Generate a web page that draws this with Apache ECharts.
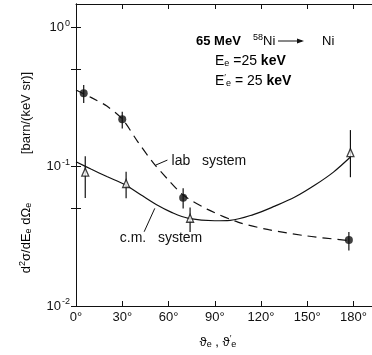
<!DOCTYPE html>
<html>
<head>
<meta charset="utf-8">
<script src="https://cdn.jsdelivr.net/npm/echarts@6/dist/echarts.min.js"></script>
<style>
  html, body { margin: 0; padding: 0; background: #fff; }
  #chart { width: 372px; height: 355px; }
</style>
</head>
<body>
<div id="chart"></div>
<script>
// angles in degrees, cross sections in barn/(keV sr)
var labAngle = [5, 30, 69.5, 177];
var labValue = [0.336, 0.219, 0.0598, 0.0297];
var labLow   = [0.286, 0.188, 0.050, 0.025];
var labHigh  = [0.385, 0.248, 0.070, 0.034];

var cmAngle = [6, 32.5, 74, 178];
var cmValue = [0.0914, 0.0757, 0.0426, 0.126];
var cmLow   = [0.0595, 0.0594, 0.0339, 0.084];
var cmHigh  = [0.119, 0.092, 0.051, 0.183];

// curves drawn through the points (dashed = lab, solid = c.m.)
var labCurveX = [0, 10, 20, 30, 40, 50, 60, 70, 85, 105, 125, 150, 177];
var labCurveY = [0.355, 0.313, 0.272, 0.2197, 0.1514, 0.107, 0.0801, 0.062, 0.0496, 0.040, 0.0353, 0.0318, 0.0295];
var cmCurveX = [0, 10, 20, 32, 42, 52, 62, 73, 90, 100, 115, 129, 142, 155, 167, 178];
var cmCurveY = [0.1084, 0.0957, 0.0849, 0.0738, 0.0628, 0.0535, 0.0470, 0.0426, 0.0409, 0.0412, 0.0453, 0.0521, 0.0605, 0.0738, 0.0914, 0.1172];

var xTicks = [0, 30, 60, 90, 120, 150, 180];
var yTicks = [0.01, 0.05, 0.1, 0.5, 1];
var yLabelVals = [0.01, 0.1, 1];

var ink = '#111';
var font = 'Liberation Sans';

function zip(xs, ys) {
  return xs.map(function (x, i) { return [x, ys[i]]; });
}

function errorBar(params, api) {
  var x = api.value(0);
  var lo = api.coord([x, api.value(1)]);
  var hi = api.coord([x, api.value(2)]);
  return {
    type: 'line',
    shape: { x1: lo[0], y1: lo[1], x2: hi[0], y2: hi[1] },
    style: { stroke: ink, lineWidth: 1.2 }
  };
}

var txt = {
  a: { fontFamily: font, fontSize: 13, color: ink },
  b: { fontFamily: font, fontSize: 13, color: ink, fontWeight: 'bold' },
  a2: { fontFamily: font, fontSize: 14, color: ink },
  b2: { fontFamily: font, fontSize: 14, color: ink, fontWeight: 'bold' },
  sup: { fontFamily: font, fontSize: 9, color: ink, padding: [0, 0, 7, 0] },
  sub: { fontFamily: font, fontSize: 9, color: ink, padding: [6, 0, 0, 0] }
};

var chart = echarts.init(document.getElementById('chart'));
chart.setOption({
  backgroundColor: '#fff',
  animation: false,
  grid: { left: 76, top: 4, right: -1, bottom: 49 },
  xAxis: [
    {
      type: 'value', min: 0, max: 192, interval: 30,
      axisLine: { lineStyle: { color: ink, width: 1 } },
      axisTick: { inside: true, length: 5, customValues: xTicks, lineStyle: { color: ink } },
      axisLabel: {
        customValues: xTicks, margin: 5,
        fontFamily: font, fontSize: 13, color: ink,
        formatter: function (v) { return v + '°'; }
      },
      splitLine: { show: false }
    },
    {
      type: 'value', position: 'top', min: 0, max: 192, interval: 30,
      axisLine: { lineStyle: { color: ink, width: 1 } },
      axisTick: { inside: true, length: 5, customValues: xTicks, lineStyle: { color: ink } },
      axisLabel: { show: false },
      splitLine: { show: false }
    }
  ],
  yAxis: [
    {
      type: 'log', logBase: 10, min: 0.01, max: 1.47,
      axisLine: { show: true, lineStyle: { color: ink, width: 1 } },
      axisTick: { show: true, inside: true, length: 5, customValues: yTicks, lineStyle: { color: ink } },
      axisLabel: {
        customValues: yLabelVals, margin: 6,
        formatter: function (v) {
          var e = Math.round(Math.log10(v));
          return '{a|10}{s|' + (e === 0 ? '0' : e) + '}';
        },
        rich: {
          a: { fontFamily: font, fontSize: 13, color: ink },
          s: { fontFamily: font, fontSize: 9, color: ink, padding: [0, 0, 8, 1] }
        }
      },
      splitLine: { show: false }
    },
    {
      type: 'log', logBase: 10, min: 0.01, max: 1.47, position: 'right',
      axisLine: { show: true, lineStyle: { color: ink, width: 1 } },
      axisTick: { show: true, inside: true, length: 5, customValues: yTicks, lineStyle: { color: ink } },
      axisLabel: { show: false },
      splitLine: { show: false }
    }
  ],
  graphic: [
    {
      type: 'text', x: 26, y: 113, rotation: Math.PI / 2,
      style: { text: '[barn/(keV sr)]', font: '13px ' + font, fill: ink, align: 'center', verticalAlign: 'middle' }
    },
    {
      type: 'text', x: 26, y: 238, rotation: Math.PI / 2,
      style: {
        text: '{a|d}{sup|2}{a|σ/dE}{sub|e}{a| dΩ}{sub|e}',
        rich: txt, align: 'center', verticalAlign: 'middle'
      }
    },
    {
      type: 'text', x: 218, y: 342,
      style: {
        text: '{a|ϑ}{sub|e}{a| , ϑ}{sup|\u2032}{sub|e}',
        rich: txt, align: 'center', verticalAlign: 'middle'
      }
    },
    {
      type: 'text', x: 196, y: 41,
      style: { text: '{b|65 MeV}', rich: txt, align: 'left', verticalAlign: 'middle' }
    },
    {
      type: 'text', x: 253, y: 41,
      style: { text: '{sup|58}{a|Ni}', rich: txt, align: 'left', verticalAlign: 'middle' }
    },
    {
      type: 'line', shape: { x1: 278, y1: 41, x2: 302, y2: 41 },
      style: { stroke: ink, lineWidth: 1 }
    },
    {
      type: 'polygon', shape: { points: [[304, 41], [297, 38.5], [297, 43.5]] },
      style: { fill: ink }
    },
    {
      type: 'text', x: 322, y: 41,
      style: { text: '{a|Ni}', rich: txt, align: 'left', verticalAlign: 'middle' }
    },
    {
      type: 'text', x: 215, y: 61,
      style: { text: '{a2|E}{sub|e}{a2| =25 }{b2|keV}', rich: txt, align: 'left', verticalAlign: 'middle' }
    },
    {
      type: 'text', x: 215, y: 81,
      style: { text: '{a2|E}{sup|\u2032}{sub|e}{a2| = 25 }{b2|keV}', rich: txt, align: 'left', verticalAlign: 'middle' }
    }
  ],
  series: [
    {
      name: 'lab curve', type: 'line', smooth: 0.3,
      showSymbol: false, symbol: 'none',
      lineStyle: { color: ink, width: 1.2, type: [9, 6] },
      data: zip(labCurveX, labCurveY),
      markPoint: {
        symbol: 'circle', symbolSize: 0,
        label: { show: true, position: 'right', distance: 0, fontFamily: font, fontSize: 14, color: ink, formatter: 'lab   system' },
        data: [{ coord: [62, 0.11] }]
      },
      markLine: {
        symbol: 'none', silent: true,
        lineStyle: { color: ink, width: 1, type: 'solid' },
        label: { show: false },
        data: [[{ coord: [51.7, 0.1026] }, { coord: [59.3, 0.1115] }]]
      }
    },
    {
      name: 'c.m. curve', type: 'line', smooth: 0.35,
      showSymbol: false, symbol: 'none',
      lineStyle: { color: ink, width: 1.2 },
      data: zip(cmCurveX, cmCurveY),
      markPoint: {
        symbol: 'circle', symbolSize: 0,
        label: { show: true, position: 'right', distance: 0, fontFamily: font, fontSize: 14, color: ink, formatter: 'c.m.   system' },
        data: [{ coord: [28.4, 0.0306] }]
      },
      markLine: {
        symbol: 'none', silent: true,
        lineStyle: { color: ink, width: 1, type: 'solid' },
        label: { show: false },
        data: [[{ coord: [44.2, 0.0341] }, { coord: [51.1, 0.0502] }]]
      }
    },
    {
      name: 'lab bars', type: 'custom', renderItem: errorBar,
      encode: { x: 0, y: [1, 2] },
      data: labAngle.map(function (a, i) { return [a, labLow[i], labHigh[i]]; })
    },
    {
      name: 'c.m. bars', type: 'custom', renderItem: errorBar,
      encode: { x: 0, y: [1, 2] },
      data: cmAngle.map(function (a, i) { return [a, cmLow[i], cmHigh[i]]; })
    },
    {
      name: 'lab', type: 'scatter', symbol: 'circle', symbolSize: 8, z: 5,
      itemStyle: { color: ink },
      data: zip(labAngle, labValue)
    },
    {
      name: 'c.m.', type: 'scatter', symbol: 'triangle', symbolSize: [7, 8], z: 5,
      itemStyle: { color: '#fff', borderColor: ink, borderWidth: 1.3 },
      data: zip(cmAngle, cmValue)
    }
  ]
});
</script>
</body>
</html>
